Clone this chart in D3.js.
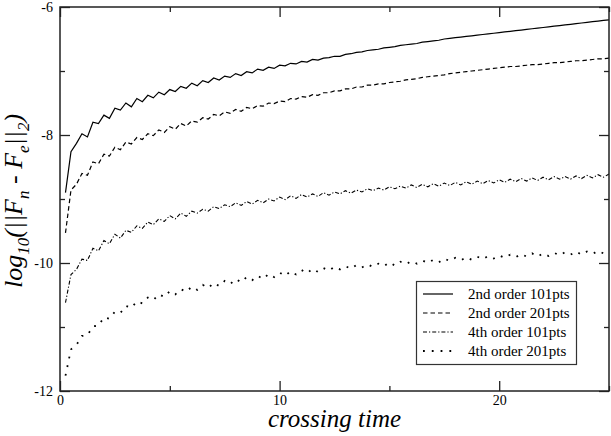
<!DOCTYPE html>
<html>
<head>
<meta charset="utf-8">
<script src="https://cdn.jsdelivr.net/npm/d3@7"></script>
<style>
  body { margin: 0; background: #fff; }
  svg { display: block; }
</style>
</head>
<body>
<div id="chart"></div>
<script>
// crossing time samples
const time = [
  0.25, 0.5, 0.75, 1, 1.25, 1.5, 1.75, 2, 2.25, 2.5, 2.75, 3, 3.25, 3.5, 3.75, 4,
  4.25, 4.5, 4.75, 5, 5.25, 5.5, 5.75, 6, 6.25, 6.5, 6.75, 7, 7.25, 7.5, 7.75, 8,
  8.25, 8.5, 8.75, 9, 9.25, 9.5, 9.75, 10, 10.25, 10.5, 10.75, 11, 11.25, 11.5, 11.75, 12,
  12.25, 12.5, 12.75, 13, 13.25, 13.5, 13.75, 14, 14.25, 14.5, 14.75, 15, 15.25, 15.5, 15.75, 16,
  16.25, 16.5, 16.75, 17, 17.25, 17.5, 17.75, 18, 18.25, 18.5, 18.75, 19, 19.25, 19.5, 19.75, 20,
  20.25, 20.5, 20.75, 21, 21.25, 21.5, 21.75, 22, 22.25, 22.5, 22.75, 23, 23.25, 23.5, 23.75, 24,
  24.25, 24.5, 24.75, 25
];

// log10 of the error, one value per time sample
const order2pts101 = [
  -8.90, -8.26, -8.13, -7.98, -8.03, -7.80, -7.82, -7.69, -7.74, -7.58, -7.61, -7.50,
  -7.56, -7.43, -7.48, -7.38, -7.42, -7.33, -7.37, -7.29, -7.32, -7.24, -7.27, -7.19,
  -7.23, -7.15, -7.18, -7.11, -7.14, -7.08, -7.10, -7.04, -7.07, -7.01, -7.03, -6.97,
  -6.99, -6.94, -6.96, -6.91, -6.92, -6.88, -6.89, -6.85, -6.86, -6.82, -6.83, -6.80,
  -6.79, -6.77, -6.77, -6.74, -6.73, -6.71, -6.70, -6.68, -6.67, -6.66, -6.64, -6.63,
  -6.62, -6.60, -6.59, -6.58, -6.57, -6.55, -6.54, -6.53, -6.52, -6.50, -6.49, -6.48,
  -6.47, -6.46, -6.45, -6.44, -6.43, -6.42, -6.41, -6.40, -6.39, -6.38, -6.37, -6.36,
  -6.35, -6.34, -6.33, -6.32, -6.31, -6.30, -6.29, -6.28, -6.27, -6.26, -6.25, -6.24,
  -6.23, -6.22, -6.21, -6.20
];

const order2pts201 = [
  -9.53, -8.86, -8.77, -8.60, -8.63, -8.42, -8.45, -8.30, -8.33, -8.19, -8.23, -8.11,
  -8.14, -8.04, -8.07, -7.98, -8.01, -7.92, -7.96, -7.87, -7.91, -7.82, -7.86, -7.78,
  -7.80, -7.73, -7.75, -7.68, -7.70, -7.64, -7.66, -7.60, -7.63, -7.57, -7.59, -7.54,
  -7.55, -7.50, -7.51, -7.47, -7.48, -7.43, -7.44, -7.40, -7.41, -7.37, -7.38, -7.34,
  -7.34, -7.31, -7.31, -7.28, -7.28, -7.25, -7.25, -7.22, -7.22, -7.20, -7.20, -7.18,
  -7.17, -7.16, -7.14, -7.13, -7.12, -7.10, -7.09, -7.08, -7.07, -7.06, -7.04, -7.03,
  -7.02, -7.01, -7.00, -6.99, -6.98, -6.97, -6.96, -6.95, -6.94, -6.93, -6.93, -6.92,
  -6.91, -6.90, -6.90, -6.89, -6.88, -6.87, -6.87, -6.86, -6.85, -6.84, -6.84, -6.83,
  -6.82, -6.81, -6.81, -6.80
];

const order4pts101 = [
  -10.62, -10.18, -10.10, -9.94, -9.96, -9.77, -9.81, -9.65, -9.70, -9.55, -9.61, -9.49,
  -9.52, -9.42, -9.46, -9.36, -9.40, -9.31, -9.35, -9.26, -9.31, -9.22, -9.27, -9.19,
  -9.22, -9.16, -9.19, -9.12, -9.15, -9.09, -9.12, -9.06, -9.10, -9.04, -9.08, -9.02,
  -9.06, -9.00, -9.03, -8.97, -9.01, -8.95, -8.99, -8.93, -8.97, -8.92, -8.96, -8.90,
  -8.94, -8.89, -8.92, -8.87, -8.91, -8.86, -8.89, -8.84, -8.87, -8.83, -8.86, -8.81,
  -8.84, -8.80, -8.83, -8.78, -8.82, -8.77, -8.81, -8.76, -8.80, -8.75, -8.79, -8.74,
  -8.78, -8.73, -8.77, -8.72, -8.76, -8.71, -8.75, -8.70, -8.74, -8.69, -8.73, -8.68,
  -8.72, -8.67, -8.71, -8.66, -8.70, -8.65, -8.69, -8.65, -8.69, -8.64, -8.68, -8.63,
  -8.67, -8.62, -8.66, -8.61
];

const order4pts201 = [
  -11.76, -11.35, -11.28, -11.14, -11.13, -10.99, -10.98, -10.85, -10.87, -10.76, -10.78, -10.67,
  -10.70, -10.60, -10.63, -10.54, -10.58, -10.49, -10.53, -10.44, -10.49, -10.41, -10.45, -10.37,
  -10.42, -10.34, -10.39, -10.31, -10.36, -10.28, -10.33, -10.25, -10.30, -10.22, -10.27, -10.20,
  -10.25, -10.17, -10.22, -10.15, -10.20, -10.13, -10.18, -10.11, -10.16, -10.09, -10.14, -10.08,
  -10.12, -10.06, -10.10, -10.05, -10.09, -10.03, -10.07, -10.02, -10.06, -10.01, -10.05, -9.99,
  -10.04, -9.98, -10.02, -9.97, -10.01, -9.96, -10.00, -9.95, -9.99, -9.93, -9.97, -9.92,
  -9.96, -9.91, -9.95, -9.90, -9.94, -9.89, -9.93, -9.88, -9.92, -9.87, -9.91, -9.86,
  -9.90, -9.85, -9.90, -9.85, -9.89, -9.84, -9.88, -9.83, -9.87, -9.82, -9.87, -9.82,
  -9.86, -9.81, -9.85, -9.80
];

const legendLabels = ["2nd order 101pts", "2nd order 201pts", "4th order 101pts", "4th order 201pts"];
const xMajorTicks = [0, 10, 20];
const xMinorTicks = [5, 15, 25];
const yMajorTicks = [-12, -10, -8, -6];
const yMinorTicks = [-11, -9, -7];

const width = 611;
const height = 436;
const plot = { left: 60, right: 609, top: 7, bottom: 391 };
const serif = "'Liberation Serif', 'Times New Roman', Times, serif";

const svg = d3
  .select("#chart")
  .append("svg")
  .attr("width", width)
  .attr("height", height)
  .attr("viewBox", `0 0 ${width} ${height}`);

const x = d3.scaleLinear().domain([0, 25]).range([plot.left, plot.right]);
const y = d3.scaleLinear().domain([-12, -6]).range([plot.bottom, plot.top]);

svg.append("defs")
  .append("clipPath")
  .attr("id", "clip")
  .append("rect")
  .attr("x", plot.left)
  .attr("y", plot.top)
  .attr("width", plot.right - plot.left)
  .attr("height", plot.bottom - plot.top);

// series drawn with xmgrace-like line patterns
const series = [
  { values: order2pts101, dash: null, width: 1.2 },
  { values: order2pts201, dash: "4.5,3", width: 1.2 },
  { values: order4pts101, dash: "4,2,1.2,2", width: 1.1 },
  { values: order4pts201, dash: "1.8,7", width: 1.8 }
];

const line = d3.line()
  .x((d) => x(d[0]))
  .y((d) => y(d[1]));

const lines = svg.append("g").attr("clip-path", "url(#clip)");

series.forEach((s) => {
  lines.append("path")
    .datum(time.map((t, i) => [t, s.values[i]]))
    .attr("d", line)
    .attr("fill", "none")
    .attr("stroke", "#000")
    .attr("stroke-width", s.width)
    .attr("stroke-dasharray", s.dash);
});

// axes: ticks point inward on all four sides
function styleAxis(g) {
  g.select(".domain").remove();
  g.selectAll(".tick line").attr("stroke", "#222").attr("stroke-width", 1.3);
  g.selectAll(".tick text")
    .attr("fill", "#000")
    .style("font-family", serif)
    .style("font-size", "14px");
}

const label = (d) => String(d);

svg.append("g")
  .attr("transform", `translate(0,${plot.bottom})`)
  .call(d3.axisBottom(x).tickValues(xMajorTicks).tickSize(-10).tickPadding(4).tickFormat(label))
  .call(styleAxis);

svg.append("g")
  .attr("transform", `translate(0,${plot.bottom})`)
  .call(d3.axisBottom(x).tickValues(xMinorTicks).tickSize(-5).tickFormat(""))
  .call(styleAxis);

svg.append("g")
  .attr("transform", `translate(0,${plot.top})`)
  .call(d3.axisTop(x).tickValues(xMajorTicks).tickSize(-10).tickFormat(""))
  .call(styleAxis);

svg.append("g")
  .attr("transform", `translate(0,${plot.top})`)
  .call(d3.axisTop(x).tickValues(xMinorTicks).tickSize(-5).tickFormat(""))
  .call(styleAxis);

svg.append("g")
  .attr("transform", `translate(${plot.left},0)`)
  .call(d3.axisLeft(y).tickValues(yMajorTicks).tickSize(-10).tickPadding(7).tickFormat(label))
  .call(styleAxis);

svg.append("g")
  .attr("transform", `translate(${plot.left},0)`)
  .call(d3.axisLeft(y).tickValues(yMinorTicks).tickSize(-5).tickFormat(""))
  .call(styleAxis);

svg.append("g")
  .attr("transform", `translate(${plot.right},0)`)
  .call(d3.axisRight(y).tickValues(yMajorTicks).tickSize(-10).tickFormat(""))
  .call(styleAxis);

svg.append("g")
  .attr("transform", `translate(${plot.right},0)`)
  .call(d3.axisRight(y).tickValues(yMinorTicks).tickSize(-5).tickFormat(""))
  .call(styleAxis);

svg.append("rect")
  .attr("x", plot.left)
  .attr("y", plot.top)
  .attr("width", plot.right - plot.left)
  .attr("height", plot.bottom - plot.top)
  .attr("fill", "none")
  .attr("stroke", "#222")
  .attr("stroke-width", 1.5);

// axis titles
svg.append("text")
  .attr("x", (plot.left + plot.right) / 2)
  .attr("y", 427)
  .attr("text-anchor", "middle")
  .style("font-family", serif)
  .style("font-style", "italic")
  .style("font-size", "25px")
  .text("crossing time");

const yTitle = svg.append("text")
  .attr("transform", `translate(22,${(plot.top + plot.bottom) / 2 + 2}) rotate(-90)`)
  .attr("text-anchor", "middle")
  .style("font-family", serif)
  .style("font-style", "italic")
  .style("font-size", "26px");

const titleParts = [
  ["log", false], ["10", true], ["(||F", false], ["n", true],
  [" - F", false], ["e", true], ["||", false], ["2", true], [")", false]
];
let shifted = false;
titleParts.forEach(([txt, sub]) => {
  const dy = sub === shifted ? 0 : (sub ? 7 : -7);
  shifted = sub;
  yTitle.append("tspan")
    .attr("dy", dy)
    .style("font-size", sub ? "17px" : "26px")
    .text(txt);
});

// legend
const legend = svg.append("g");
legend.append("rect")
  .attr("x", 416.5)
  .attr("y", 281.5)
  .attr("width", 160)
  .attr("height", 83)
  .attr("fill", "#fff")
  .attr("stroke", "#333")
  .attr("stroke-width", 1.2);

legendLabels.forEach((name, i) => {
  const yy = 294 + i * 19;
  legend.append("line")
    .attr("x1", 423)
    .attr("x2", 453)
    .attr("y1", yy)
    .attr("y2", yy)
    .attr("stroke", "#000")
    .attr("stroke-width", series[i].width)
    .attr("stroke-dasharray", series[i].dash);
  legend.append("text")
    .attr("x", 468)
    .attr("y", yy + 5)
    .style("font-family", serif)
    .style("font-size", "15px")
    .text(name);
});
</script>
</body>
</html>
